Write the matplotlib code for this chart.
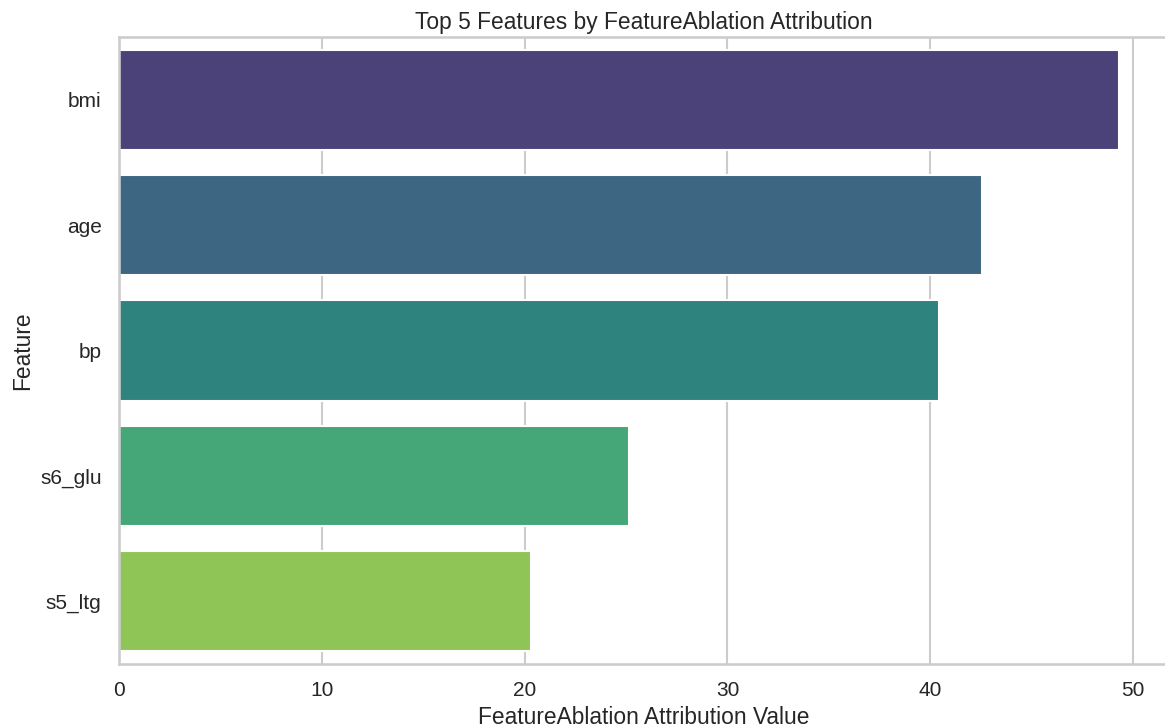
import matplotlib
matplotlib.use("Agg")
import matplotlib.pyplot as plt
import pandas as pd
import seaborn as sns

features = ["bmi", "age", "bp", "s6_glu", "s5_ltg"]
attribution = [49.3, 42.55, 40.43, 25.15, 20.32]

df = pd.DataFrame({"Feature": features, "Attribution": attribution})

sns.set_theme(style="whitegrid", context="talk")
plt.rcParams["font.family"] = ["Liberation Sans", "DejaVu Sans"]

fig = plt.figure(figsize=(11.65, 7.27), dpi=100)
ax = fig.add_axes([0.1021, 0.0867, 0.9013, 0.8624])
sns.barplot(data=df, x="Attribution", y="Feature", hue="Feature",
            palette="viridis", legend=False, ax=ax)
ax.set_title("Top 5 Features by FeatureAblation Attribution", fontsize=16.4)
ax.set_xlabel("FeatureAblation Attribution Value", fontsize=16.4)
ax.set_ylabel("Feature", fontsize=16.4)
ax.tick_params(labelsize=15)
fig.savefig("out.png", dpi=100)
